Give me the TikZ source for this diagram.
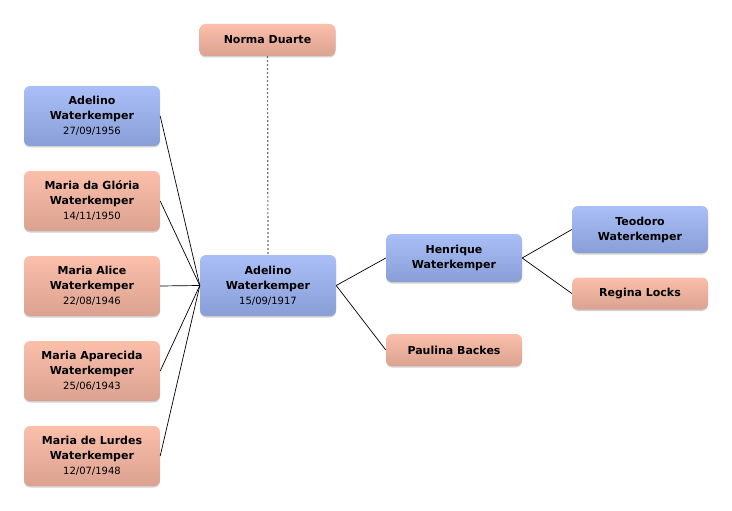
\documentclass[tikz,border=0pt]{standalone}
\usepackage{fontspec}
\setmainfont{DejaVu Sans}
\usetikzlibrary{shadows}
\definecolor{bluetop}{RGB}{170,191,247}
\definecolor{bluebot}{RGB}{137,157,214}
\definecolor{pinktop}{RGB}{251,191,170}
\definecolor{pinkbot}{RGB}{219,162,145}
\tikzset{
  x=1pt, y=1pt,
  person/.style={rounded corners=6pt, minimum width=136pt, align=center,
    inner sep=0pt, font=\bfseries\fontsize{11}{15}\selectfont,
    drop shadow={shadow xshift=0pt, shadow yshift=-1.5pt, opacity=0.25, fill=black!70}},
  male/.style={person, top color=bluetop, bottom color=bluebot},
  female/.style={person, top color=pinktop, bottom color=pinkbot},
  link/.style={draw=black, line width=0.7pt},
  spouse/.style={draw=black!55, line width=1.2pt, dash pattern=on 2pt off 2pt}
}
\newcommand{\dt}[1]{{\mdseries\fontsize{10}{13}\selectfont #1}}
\begin{document}
\begin{tikzpicture}
\useasboundingbox (0,0) rectangle (732,-511);
\node[female, minimum height=32pt] (nd) at (267.5,-40) {Norma Duarte};
\node[male, minimum height=60pt] (a56) at (92,-116) {Adelino\\Waterkemper\\\dt{27/09/1956}};
\node[female, minimum height=60pt] (mg) at (92,-201) {Maria da Glória\\Waterkemper\\\dt{14/11/1950}};
\node[female, minimum height=60pt] (mal) at (92,-286) {Maria Alice\\Waterkemper\\\dt{22/08/1946}};
\node[female, minimum height=60pt] (map) at (92,-371) {Maria Aparecida\\Waterkemper\\\dt{25/06/1943}};
\node[female, minimum height=60pt] (mld) at (92,-456) {Maria de Lurdes\\Waterkemper\\\dt{12/07/1948}};
\node[male, minimum height=61pt] (ad) at (268,-285.5) {Adelino\\Waterkemper\\\dt{15/09/1917}};
\node[male, minimum height=48pt] (he) at (454,-258) {Henrique\\Waterkemper};
\node[female, minimum height=32pt] (pb) at (454,-350) {Paulina Backes};
\node[male, minimum height=47pt] (te) at (640,-229.5) {Teodoro\\Waterkemper};
\node[female, minimum height=32pt] (rl) at (640,-293.5) {Regina Locks};
\draw[spouse] (nd.south) -- (ad.north);
\foreach \c in {a56,mg,mal,map,mld} \draw[link] (\c.east) -- (ad.west);
\draw[link] (ad.east) -- (he.west);
\draw[link] (ad.east) -- (pb.west);
\draw[link] (he.east) -- (te.west);
\draw[link] (he.east) -- (rl.west);
\end{tikzpicture}
\end{document}
